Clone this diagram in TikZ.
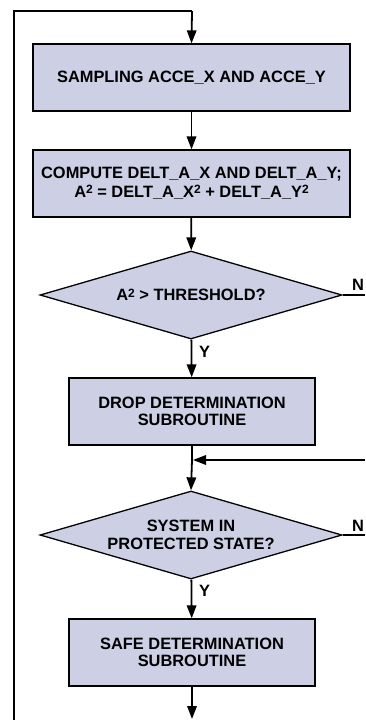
\documentclass[tikz,border=0pt]{standalone}
\usepackage{fontspec}
\setmainfont{Liberation Sans}
\usetikzlibrary{shapes.geometric,arrows.meta}
\definecolor{boxfill}{RGB}{205,208,228}
\newcommand{\sqr}{\raisebox{0.42ex}{\fontsize{12}{12}\selectfont 2}}
\tikzset{
  every node/.style={font=\fontsize{16.4}{17.5}\selectfont\bfseries},
  procbox/.style={draw=black,line width=1.3pt,fill=boxfill,rectangle,inner sep=0pt,align=center,minimum height=67pt},
  decbox/.style={draw=black,line width=1.3pt,fill=boxfill,diamond,shape aspect=3.43,inner sep=0pt,align=center,minimum width=302pt,minimum height=88pt},
  flow/.style={line width=1.8pt,-{Triangle[length=13pt,width=9.5pt]}},
  plainline/.style={line width=1.8pt},
  lbl/.style={inner sep=0pt}
}
\begin{document}
\begin{tikzpicture}[x=1pt,y=-1pt]
\useasboundingbox (0,0) rectangle (365,720);
\node[procbox,minimum width=317pt] (b1) at (191.5,77.5) {SAMPLING ACCE\_X AND ACCE\_Y};
\node[procbox,minimum width=317pt] (b2) at (191.5,183.5) {COMPUTE DELT\_A\_X AND DELT\_A\_Y;\\[1pt]A\sqr{} = DELT\_A\_X\sqr{} + DELT\_A\_Y\sqr};
\node[decbox] (d1) at (191,295) {A\sqr{} > THRESHOLD?};
\node[procbox,minimum width=246pt] (b3) at (192,411.5) {DROP DETERMINATION\\SUBROUTINE};
\node[decbox] (d2) at (191,535) {SYSTEM IN\\PROTECTED STATE?};
\node[procbox,minimum width=246pt] (b4) at (192,652.5) {SAFE DETERMINATION\\SUBROUTINE};
\coordinate (top) at (192,11);
\coordinate (lt) at (14,11);
\coordinate (lb) at (14,720);
\coordinate (m) at (192,460);
\coordinate (mr) at (365,460);
\coordinate (n1) at (365,295);
\coordinate (n2) at (365,535);
\coordinate (bot) at (192,719);
\draw[plainline,line join=miter] (lb) -- (lt) -- (top);
\draw[flow] (top) -- (b1.north);
\draw[flow] (b1) -- (b2);
\draw[flow] (b2) -- (d1);
\draw[flow] (d1) -- (b3);
\draw[plainline] (d1.east) -- (n1);
\draw[plainline] (b3.south) -- (m);
\draw[flow] (m) -- (d2.north);
\draw[flow] (mr) -- ([xshift=1pt]m);
\draw[plainline] (d2.east) -- (n2);
\draw[flow] (d2) -- (b4);
\draw[flow] (b4) -- (bot);
\node[lbl,anchor=base west] (y1) at (199,357) {Y};
\node[lbl,anchor=base west] (y2) at (199,596) {Y};
\node[lbl,anchor=base west] (nn1) at (352,290) {N};
\node[lbl,anchor=base west] (nn2) at (352,531) {N};
\end{tikzpicture}
\end{document}
